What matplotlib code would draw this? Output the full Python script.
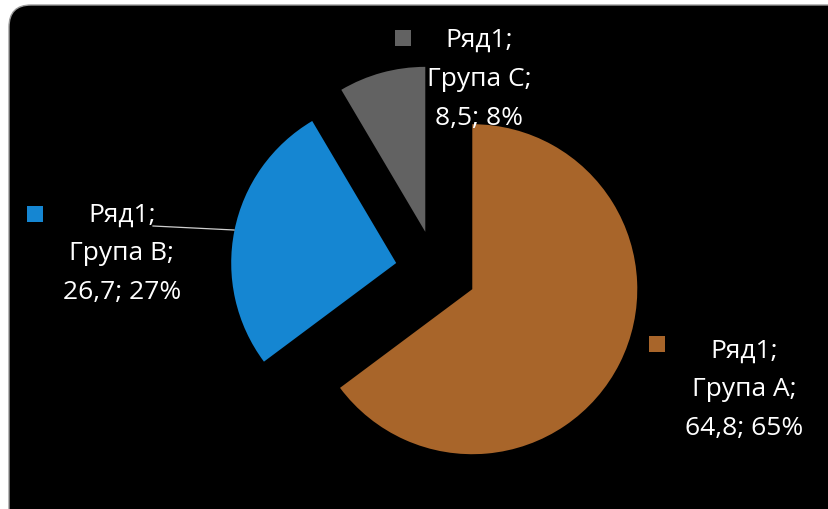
import matplotlib.pyplot as plt
from matplotlib.patches import FancyBboxPatch, Rectangle

# data
series = "Ряд1"
categories = ["Група A", "Група B", "Група C"]
values = [64.8, 26.7, 8.5]
colors = ["#A8652A", "#1586D2", "#626262"]

W, H = 829, 510
fig = plt.figure(figsize=(W / 100, H / 100), dpi=100, facecolor="white")
ax = fig.add_axes([0, 0, 1, 1])

# black chart area with rounded corners
bg = FancyBboxPatch((9 + 22, -30 + 22), W + 40 - 44, H - 6 + 30 - 44,
                    boxstyle="round,pad=22", facecolor="black",
                    edgecolor="#9a9a9a", linewidth=1.0, zorder=0)
ax.add_patch(bg)

# pie in pixel coords (y up); explode is in data units here
cx, cy, r = 436, H - 272, 165
ax.pie(values, colors=colors, startangle=90, counterclock=False,
       explode=[0.246 * r] * 3, radius=r, center=(cx, cy),
       wedgeprops=dict(linewidth=0), frame=True)
ax.set_xlim(0, W)
ax.set_ylim(0, H)
ax.set_aspect("equal")
ax.axis("off")

total = sum(values)
labels = []
for cat, v in zip(categories, values):
    val = f"{v:.1f}".replace(".", ",")
    pct = round(v / total * 100)
    labels.append([f"{series};", f"{cat};", f"{val}; {pct}%"])

# label layout: (text center x, first line y from top, square x, square y)
layout = [(744, 351, 657, 345), (122, 215, 35, 215), (479, 40, 403, 39)]
font = dict(family=["Open Sans", "DejaVu Sans"], size=19, color="white")
line_h = 39

for lines, (tx, ty, sx, sy), col in zip(labels, layout, colors):
    for i, s in enumerate(lines):
        ax.text(tx, H - (ty + i * line_h), s, ha="center", va="center", **font)
    ax.add_patch(Rectangle((sx - 8, H - sy - 8), 16, 16, facecolor=col,
                           edgecolor="none", zorder=3))

# leader line for B
ax.plot([153, 234], [H - 227, H - 231], color="#cfcfcf", linewidth=0.9, zorder=3)

fig.savefig("out.png", dpi=100, facecolor="white")
